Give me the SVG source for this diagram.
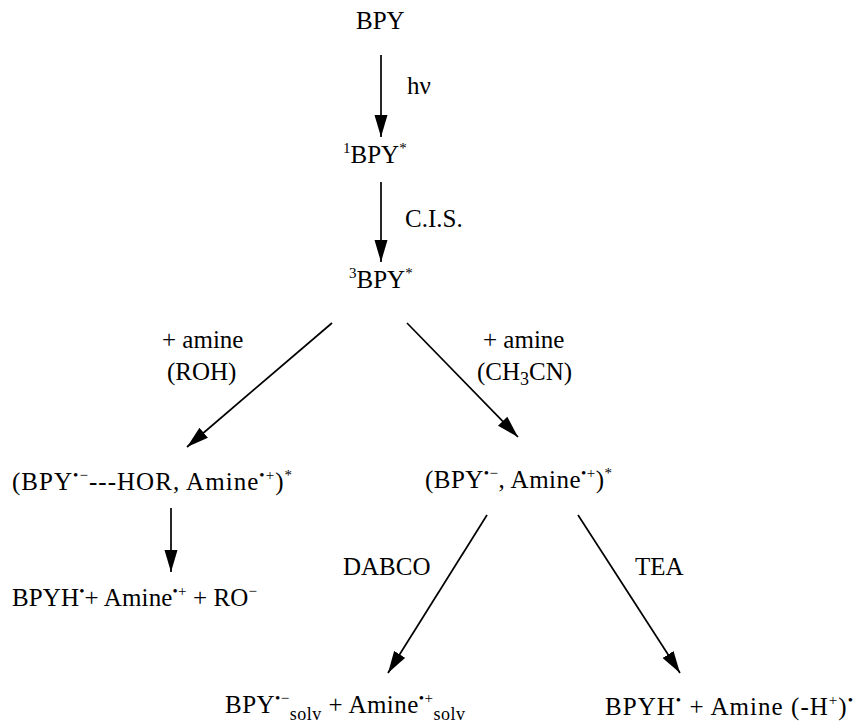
<svg xmlns="http://www.w3.org/2000/svg" width="857" height="724" viewBox="0 0 857 724">
<style>
  text { font-family: 'Liberation Serif', 'Times New Roman', serif; font-size: 25px; fill: #000; }
  .sp { font-size: 15px; }
  .sb { font-size: 18px; }
  .ln { stroke: #000; stroke-width: 1.7; fill: none; marker-end: url(#ah); }
</style>
<defs>
  <marker id="ah" markerUnits="userSpaceOnUse" markerWidth="22" markerHeight="14" refX="22" refY="7" orient="auto" viewBox="0 0 22 14">
    <path d="M0,0.5 L22,7 L0,13.5 Z" fill="#000"/>
  </marker>
</defs>
<rect width="857" height="724" fill="#fff"/>

<g id="connectors">
  <line class="ln" x1="381" y1="55" x2="381" y2="137"/>
  <line class="ln" x1="381" y1="182" x2="381" y2="262"/>
  <line class="ln" x1="332" y1="323" x2="187" y2="447"/>
  <line class="ln" x1="407" y1="323" x2="518" y2="437"/>
  <line class="ln" x1="171" y1="508" x2="171" y2="572"/>
  <line class="ln" x1="487" y1="515" x2="388" y2="673"/>
  <line class="ln" x1="578" y1="515" x2="680" y2="673"/>
</g>

<g id="labels">
  <text x="407" y="94">hν</text>
  <text x="405" y="227">C.I.S.</text>
  <text x="162" y="348">+ amine</text>
  <text x="167" y="380">(ROH)</text>
  <text x="483" y="348">+ amine</text>
  <text x="477" y="380">(CH<tspan class="sb" dy="5">3</tspan><tspan dy="-5">CN)</tspan></text>
  <text x="343" y="575">DABCO</text>
  <text x="635" y="575">TEA</text>
</g>

<g id="node-bpy">
  <text x="356" y="29">BPY</text>
</g>

<g id="node-1bpy">
  <text x="343" y="163"><tspan class="sp" dy="-10">1</tspan><tspan dy="10">BPY</tspan><tspan class="sp" dy="-10">*</tspan></text>
</g>

<g id="node-3bpy">
  <text x="349" y="288"><tspan class="sp" dy="-10">3</tspan><tspan dy="10">BPY</tspan><tspan class="sp" dy="-10">*</tspan></text>
</g>

<g id="node-complex-roh">
  <text x="12" y="490" textLength="280" lengthAdjust="spacing">(BPY<tspan class="sp" dy="-10">•−</tspan><tspan dy="10">---HOR, Amine</tspan><tspan class="sp" dy="-10">•+</tspan><tspan dy="10">)</tspan><tspan class="sp" dy="-10">*</tspan></text>
</g>

<g id="node-complex-ch3cn">
  <text x="425" y="488" textLength="187" lengthAdjust="spacing">(BPY<tspan class="sp" dy="-10">•−</tspan><tspan dy="10">, Amine</tspan><tspan class="sp" dy="-10">•+</tspan><tspan dy="10">)</tspan><tspan class="sp" dy="-10">*</tspan></text>
</g>

<g id="node-bpyh-ro">
  <text x="12" y="606" textLength="245" lengthAdjust="spacing">BPYH<tspan class="sp" dy="-10">•</tspan><tspan dy="10">+ Amine</tspan><tspan class="sp" dy="-10">•+</tspan><tspan dy="10"> + RO</tspan><tspan class="sp" dy="-10">−</tspan></text>
</g>

<g id="node-solv">
  <text x="225" y="713" textLength="240" lengthAdjust="spacing">BPY<tspan class="sp" dy="-10">•−</tspan><tspan class="sb" dy="17">solv</tspan><tspan dy="-7"> + Amine</tspan><tspan class="sp" dy="-10">•+</tspan><tspan class="sb" dy="17">solv</tspan></text>
</g>

<g id="node-bpyh-tea">
  <text x="605" y="715" textLength="248" lengthAdjust="spacing">BPYH<tspan class="sp" dy="-10">•</tspan><tspan dy="10"> + Amine (-H</tspan><tspan class="sp" dy="-10">+</tspan><tspan dy="10">)</tspan><tspan class="sp" dy="-10">•</tspan></text>
</g>
</svg>
